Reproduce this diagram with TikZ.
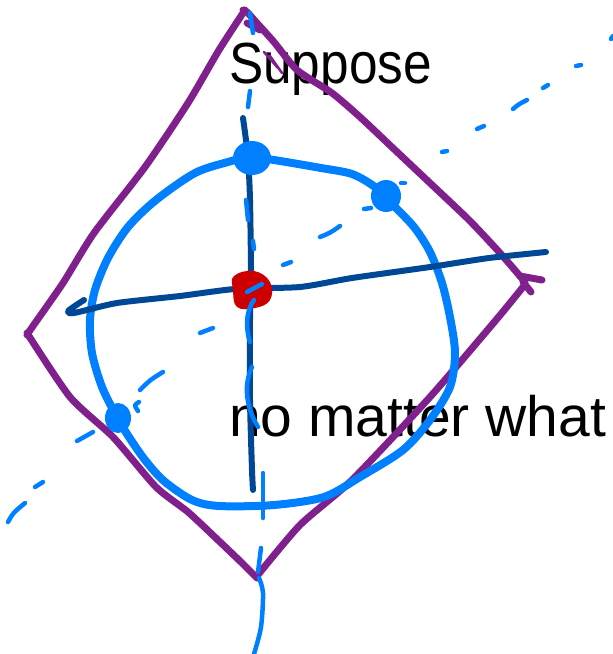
\documentclass[tikz,border=0pt]{standalone}
\usepackage{fontspec}
\setmainfont{Liberation Sans}
\definecolor{pur}{RGB}{128,32,140}
\definecolor{lb}{RGB}{0,128,255}
\definecolor{db}{RGB}{0,72,150}
\definecolor{rd}{RGB}{204,0,0}
\begin{document}
\begin{tikzpicture}[x=1pt,y=-1pt,line cap=round,line join=round,
  purp/.style={pur,line width=7pt},
  circ/.style={lb,line width=8pt},
  axis/.style={db,line width=6pt},
  dsh/.style={lb,line width=4.5pt},
  lbl/.style={anchor=base west,inner sep=0pt,font=\fontsize{58}{60}\selectfont}]
\useasboundingbox (0,0) rectangle (613,654);
% texts
\node[lbl] (t1) at (229,83) {\scalebox{0.885}[1]{Suppose}};
\node[lbl,font=\fontsize{57}{60}\selectfont] (t2) at (229,436) {no matter what};
% purple quadrilateral
\draw[purp] plot[smooth,tension=0.4] coordinates {(245,10) (219,50) (188,103) (145,167) (94,233) (63,283) (33,326) (27,335)};
\draw[purp] plot[smooth,tension=0.4] coordinates {(27,333) (70,397) (113,437) (156,487) (188,512) (219,541) (242,563) (257,578)};
\draw[purp] plot[smooth,tension=0.4] coordinates {(257,576) (300,525) (352,480) (430,397) (496,320) (523,287)};
\draw[purp] plot[smooth,tension=0.4] coordinates {(525,282) (500,253) (469,220) (430,183) (395,150) (360,117) (332,93) (297,70) (274,42) (256,22) (247,12) (243,10)};
\draw[purp] (247,23) -- (260,30);
\draw[purp] (520,276) -- (542,280);
\draw[purp] (523,282) -- (531,292);
\draw[pur,line width=2.5pt] (264,52) -- (278,68) -- (270,56) -- (282,73);
% light blue circle
\draw[circ] plot[smooth cycle,tension=0.5] coordinates {(250,157) (274,160) (321,168) (352,174) (375,187) (391,203) (414,227) (430,252) (442,283) (450,317) (455,353) (450,387) (430,420) (403,450) (360,477) (324,497) (274,505) (219,506) (192,500) (164,481) (145,460) (129,437) (117,417) (102,387) (92,353) (90,320) (95,290) (108,258) (128,227) (156,200) (195,173) (228,162)};
% dark blue axes
\draw[axis] plot[smooth,tension=0.4] coordinates {(243,118) (248,157) (250,200) (251,273) (250,320) (250,400) (252,470) (253,490)};
\draw[axis] plot[smooth,tension=0.4] coordinates {(84,300) (68,311) (74,313) (117,303) (180,296) (235,289) (300,287) (352,278) (430,267) (489,258) (546,252)};
% dashed light blue diagonal
\draw[dsh] (8,522) .. controls (13,513) .. (25,503);
\draw[dsh] (35,487) -- (43,482);
\draw[dsh] (77,441) -- (93,432);
\draw[dsh] (140,390) .. controls (150,380) .. (163,372);
\draw[dsh] (139,402) .. controls (134,405) .. (138,411);
\draw[dsh] (200,333) -- (213,328);
\draw[dsh] (283,265) -- (291,262);
\draw[dsh] (320,237) .. controls (330,233) .. (340,226);
\draw[dsh] (364,209) -- (371,208);
\draw[dsh] (366,181) -- (369,182);
\draw[dsh] (401,183) -- (405,183);
\draw[dsh] (442,152) -- (447,151);
\draw[dsh] (477,129) -- (484,126);
\draw[dsh] (513,109) .. controls (519,104) .. (527,100);
\draw[dsh] (543,88) -- (548,85);
\draw[dsh] (576,66) -- (581,65);
\draw[dsh] (611,39) -- (613,36);
% vertical light blue
\draw[dsh] (250,13) -- (253,33);
\draw[dsh] (250,91) -- (248,107);
\draw[dsh] (246,200) -- (248,220);
\draw[dsh] (253,241) -- (254,249);
\draw[dsh] (252,367) .. controls (242,388) and (248,410) .. (258,427);
\draw[dsh] (263,473) -- (263,518);
\draw[dsh] (261,548) -- (258,572);
\draw[dsh] plot[smooth,tension=0.5] coordinates {(259,578) (263,593) (261,627) (254,654)};
% dots
\fill[lb] (252,158) ellipse [x radius=19,y radius=17];
\fill[lb] (386,196) ellipse [x radius=15,y radius=16];
\fill[lb] (118,418) ellipse [x radius=13,y radius=15];
\fill[rd] plot[smooth cycle,tension=0.7] coordinates {(234,276) (254,271) (270,282) (270,300) (255,308) (237,307) (233,290)};
\draw[dsh] (247,292) -- (262,284);
\draw[dsh] (254,300) .. controls (245,312) and (246,330) .. (250,342);
\end{tikzpicture}
\end{document}
